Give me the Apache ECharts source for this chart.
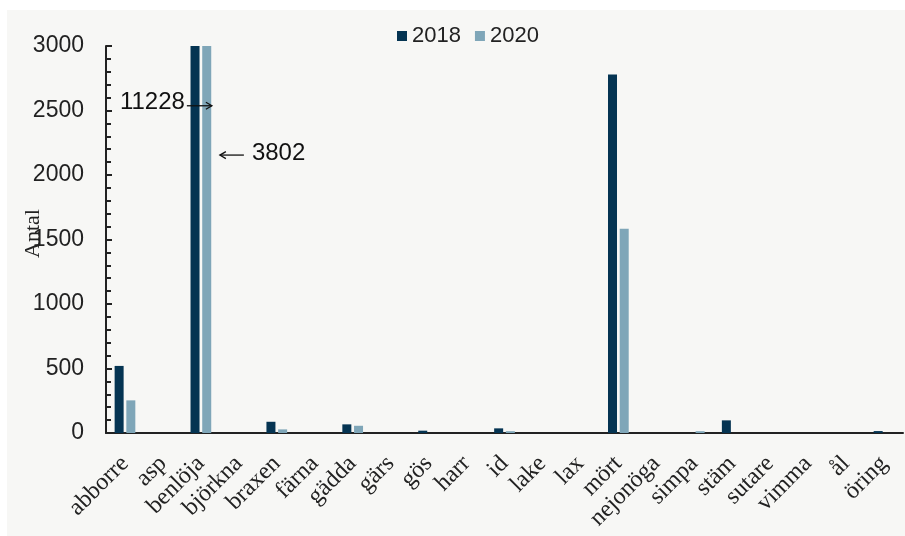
<!DOCTYPE html>
<html>
<head>
<meta charset="utf-8">
<script src="https://cdn.jsdelivr.net/npm/echarts@6/dist/echarts.min.js"></script>
<style>
html,body{margin:0;padding:0;background:#fff;}
#chart{width:905px;height:536px;}
</style>
</head>
<body>
<div id="chart"></div>
<script>
const categories = ["abborre","asp","benlöja","björkna","braxen","färna","gädda","gärs","gös","harr","id","lake","lax","mört","nejonöga","simpa","stäm","sutare","vimma","ål","öring"];
const values2018 = [520,0,11228,0,87,0,67,0,18,0,36,0,0,2780,0,0,98,0,0,0,15];
const values2020 = [253,0,3802,0,28,0,56,0,0,0,14,0,0,1583,0,14,0,0,0,0,0];
const seriesNames = ["2018","2020"];
const yTicks = {min:0, max:3000, interval:500};

const chart = echarts.init(document.getElementById('chart'), null, {renderer:'canvas'});
const sans = "'Liberation Sans', Arial, sans-serif";
const serif = "'Liberation Serif', 'Times New Roman', serif";

const bg = {type:'rect', left:7, top:10, shape:{width:898, height:526}, style:{fill:'#f7f7f5'}, z:-10};

const option = {
  backgroundColor:'#ffffff',
  animation:false,
  graphic:[bg],
  legend:{
    top:20, left:392, itemWidth:10, itemHeight:10, itemGap:14,
    icon:'rect',
    textStyle:{fontFamily:sans, fontSize:22, color:'#222'},
    data:seriesNames
  },
  grid:{left:106, right:2, top:46, bottom:103, containLabel:false, outerBoundsMode:'none'},
  xAxis:{
    type:'category', data:categories,
    axisLine:{lineStyle:{color:'#222', width:2}},
    axisTick:{show:false},
    axisLabel:{rotate:45, interval:0, fontFamily:serif, fontSize:24, color:'#222', margin:27}
  },
  yAxis:{
    type:'value', min:yTicks.min, max:yTicks.max, interval:yTicks.interval,
    name:'Antal', nameLocation:'middle', nameGap:62, nameRotate:90, nameMoveOverlap:false,
    nameTextStyle:{fontFamily:serif, fontSize:22, color:'#222', padding:[0,0,0,12]},
    axisLine:{show:true, lineStyle:{color:'#222', width:2}},
    axisTick:{show:true, inside:false, length:-6, lineStyle:{color:'#222', width:2}},
    minorTick:{show:true, splitNumber:5, length:-5, lineStyle:{color:'#222', width:2}},
    splitLine:{show:false},
    axisLabel:{fontFamily:sans, fontSize:23, color:'#222', margin:22, formatter:function(v){return String(v);}}
  },
  series:[
    {name:seriesNames[0], type:'bar', data:values2018, barWidth:9, barGap:'30%', clip:true,
     itemStyle:{color:'#053452'}},
    {name:seriesNames[1], type:'bar', data:values2020, barWidth:9, clip:true,
     itemStyle:{color:'#7fa6b8'}}
  ]
};
chart.setOption(option);

// annotations for bars exceeding the axis maximum
const idx = categories.indexOf('benlöja');
const c = chart.convertToPixel({xAxisIndex:0}, categories[idx]);
const y1 = chart.convertToPixel({yAxisIndex:0}, 2560);
const y2 = chart.convertToPixel({yAxisIndex:0}, 2170);
const ink = '#111';
function arrow(xa, xb, y){
  const dir = xb > xa ? 1 : -1;
  return [
    {type:'line', z:10, shape:{x1:xa, y1:y, x2:xb, y2:y}, style:{stroke:ink, lineWidth:1.3}},
    {type:'polyline', z:10, shape:{points:[[xb-dir*6, y-3.5],[xb, y],[xb-dir*6, y+3.5]]}, style:{stroke:ink, lineWidth:1.3, fill:null}}
  ];
}
chart.setOption({
  graphic:[
    bg,
    {type:'text', x:c-16, y:y1, z:10,
     style:{text:String(values2018[idx]), font:"24px " + sans, fill:ink, textAlign:'right', textVerticalAlign:'middle'}},
    ...arrow(c-14, c+11, y1+3),
    ...arrow(c+43, c+19, y2+2),
    {type:'text', x:c+51, y:y2, z:10,
     style:{text:String(values2020[idx]), font:"24px " + sans, fill:ink, textAlign:'left', textVerticalAlign:'middle'}}
  ]
}, {replaceMerge:['graphic']});
</script>
</body>
</html>
